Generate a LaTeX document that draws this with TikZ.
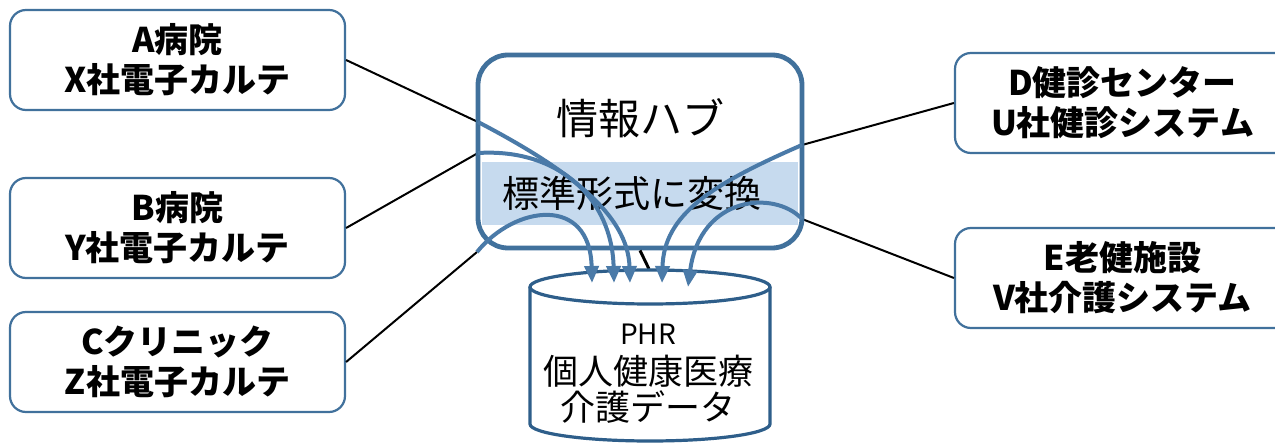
\documentclass[tikz,border=0pt]{standalone}
\usepackage{fontspec}
\setmainfont{Noto Sans CJK JP}
\usetikzlibrary{arrows.meta}
\definecolor{boxblue}{HTML}{41719C}
\definecolor{curveblue}{HTML}{4A7AA8}
\definecolor{bandblue}{HTML}{C6DAEE}
\definecolor{cylblue}{HTML}{2E5E8A}
\begin{document}
\begin{tikzpicture}[x=1pt,y=-1pt,
  srcbox/.style={draw=boxblue, line width=2.2pt, rounded corners=16pt, fill=white,
    minimum width=335pt, minimum height=100pt, align=center, inner sep=0pt,
    font=\bfseries\fontsize{34}{40}\selectfont},
  hubbox/.style={draw=boxblue, line width=4.8pt, rounded corners=30pt, fill=white,
    minimum width=324pt, minimum height=193pt, inner sep=0pt},
  bandbox/.style={fill=bandblue, minimum width=316pt, minimum height=63pt, inner sep=0pt},
  link/.style={black, line width=2pt},
  flow/.style={curveblue, line width=4pt, -{Triangle[length=17pt,width=14pt]}},
]
\clip (0,0) rectangle (1275,446);
\fill[white] (0,0) rectangle (1275,446);

% source boxes
\node[srcbox] (A) at (177.5,60) {A病院\\X社電子カルテ};
\node[srcbox] (B) at (177.5,228) {B病院\\Y社電子カルテ};
\node[srcbox] (C) at (177.5,362) {Cクリニック\\Z社電子カルテ};
\node[srcbox] (D) at (1122.5,103) {D健診センター\\U社健診システム};
\node[srcbox] (E) at (1122.5,278) {E老健施設\\V社介護システム};

% entry points on the hub
\coordinate (pA) at (478,122);
\coordinate (pB) at (478,153);
\coordinate (pC) at (477,252);
\coordinate (pD) at (802,145);
\coordinate (pE) at (802,219);

% arrow targets on the cylinder
\coordinate (tA) at (630,283);
\coordinate (tB) at (614,283);
\coordinate (tC) at (592,283);
\coordinate (tD) at (662,283);
\coordinate (tE) at (688,287);
\coordinate (cylTop) at (649,269);

% black connectors
\draw[link] (A.east) -- (pA);
\draw[link] (B.east) -- (pB);
\draw[link] (C.east) -- (pC);
\draw[link] (D.west) -- (pD);
\draw[link] (E.west) -- (pE);

% hub
\node[hubbox] (hub) at (640,151.5) {};
\draw[link, line width=3pt] (hub.south) -- (cylTop);
\node[bandbox] (band) at (640,193.5) {};
\node[font=\fontsize{42}{48}\selectfont] (hubtitle) at (640,118) {情報ハブ};
\node[font=\fontsize{37}{42}\selectfont] (bandtext) at (632,193) {標準形式に変換};

% cylinder
\fill[white] (530,287) -- (530,424) .. controls (530,433.4) and (583.7,441) .. (650,441)
  .. controls (716.3,441) and (770,433.4) .. (770,424) -- (770,287) -- cycle;
\draw[cylblue, line width=3.2pt] (530,287) -- (530,424) .. controls (530,433.4) and (583.7,441) .. (650,441)
  .. controls (716.3,441) and (770,433.4) .. (770,424) -- (770,287);
\draw[cylblue, line width=3.2pt, fill=white] (650,287) ellipse [x radius=120, y radius=17];
\node[align=center, font=\fontsize{35}{36}\selectfont] (phr) at (648,374)
  {{\fontsize{28}{30}\selectfont PHR}\\[4pt]個人健康医療\\介護データ};

% flows into the PHR
\draw[flow] (pA) .. controls (570,170) and (628,215) .. (tA);
\draw[flow] (pB) .. controls (560,148) and (612,200) .. (tB);
\draw[flow] (pC) .. controls (515,205) and (590,195) .. (tC);
\draw[flow] (pD) .. controls (710,185) and (664,215) .. (tD);
\draw[flow] (pE) .. controls (775,190) and (700,195) .. (tE);
\end{tikzpicture}
\end{document}
